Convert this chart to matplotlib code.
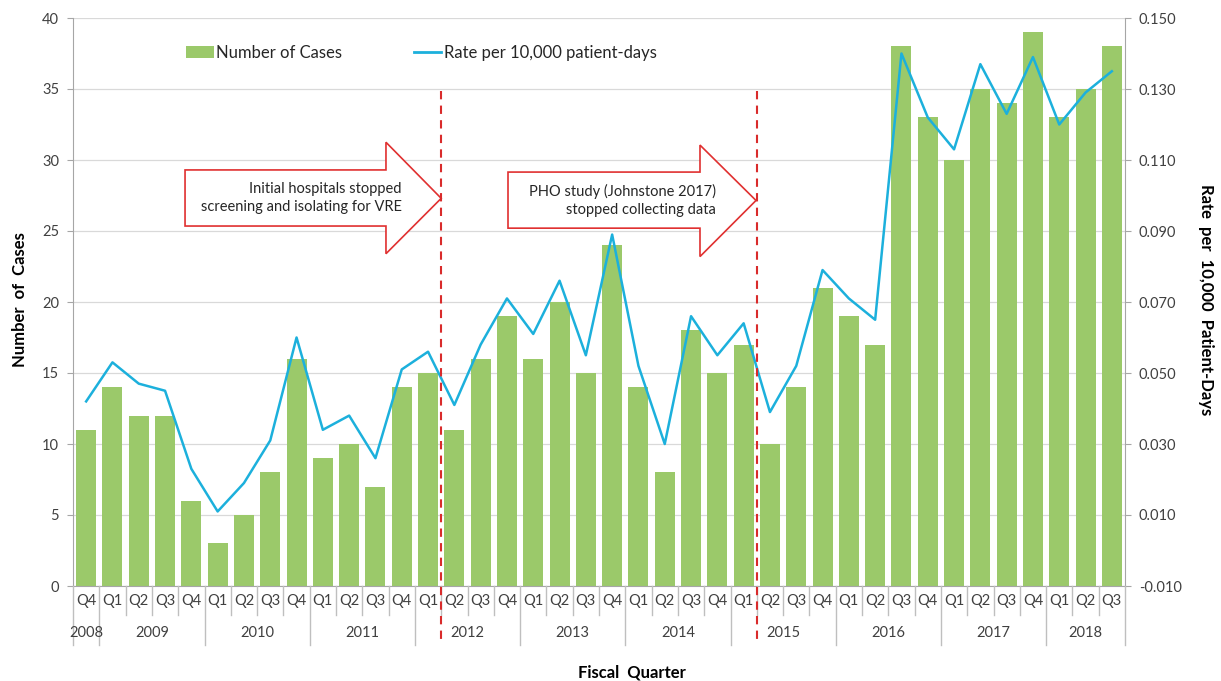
import numpy as np
import matplotlib.pyplot as plt
from matplotlib.patches import Polygon, Patch
from matplotlib.lines import Line2D
from matplotlib.ticker import FormatStrFormatter
import matplotlib.transforms as mtransforms

plt.rcParams['font.family'] = ['Lato', 'DejaVu Sans']

# fiscal quarters Q4 2008 .. Q3 2018
quarters = ['Q4'] + ['Q1', 'Q2', 'Q3', 'Q4'] * 9 + ['Q1', 'Q2', 'Q3']
years = ['2008'] + [str(y) for y in range(2009, 2018) for _ in range(4)] + ['2018'] * 3

cases = [11,
         14, 12, 12, 6,
         3, 5, 8, 16,
         9, 10, 7, 14,
         15, 11, 16, 19,
         16, 20, 15, 24,
         14, 8, 18, 15,
         17, 10, 14, 21,
         19, 17, 38, 33,
         30, 35, 34, 39,
         33, 35, 38]

rates = [0.042,
         0.053, 0.047, 0.045, 0.023,
         0.011, 0.019, 0.031, 0.060,
         0.034, 0.038, 0.026, 0.051,
         0.056, 0.041, 0.058, 0.071,
         0.061, 0.076, 0.055, 0.089,
         0.052, 0.030, 0.066, 0.055,
         0.064, 0.039, 0.052, 0.079,
         0.071, 0.065, 0.140, 0.122,
         0.113, 0.137, 0.123, 0.139,
         0.120, 0.129, 0.135]

# events (dashed lines between quarters)
events = [13.5, 25.5]
event_text = ['Initial hospitals stopped\nscreening and isolating for VRE',
              'PHO study (Johnstone 2017)\nstopped collecting data']

W, H = 1221, 681
GREEN = '#9BC96A'
BLUE = '#1CB0DC'
RED = '#D92B2B'
GRAY = '#A6A6A6'
TXT = '#404040'

fig = plt.figure(figsize=(W / 100, H / 100), dpi=100)
ax = fig.add_axes([73 / W, 95 / H, 1052 / W, 568 / H])
x = np.arange(len(cases))

ax.bar(x, cases, width=0.76, color=GREEN, zorder=2)
ax.set_xlim(-0.5, len(cases) - 0.5)
ax.set_ylim(0, 40)
ax.set_yticks(np.arange(0, 41, 5))
ax.yaxis.grid(True, color='#D9D9D9', linewidth=0.9, zorder=0)
ax.set_axisbelow(True)
ax.set_xticks([])
ax.tick_params(axis='y', direction='out', length=4, color=GRAY,
               labelsize=10.5, labelcolor=TXT, pad=6)
for s in ['top', 'right']:
    ax.spines[s].set_visible(False)
for s in ['left', 'bottom']:
    ax.spines[s].set_color(GRAY)

ax2 = ax.twinx()
ax2.plot(x, rates, color=BLUE, linewidth=1.8, zorder=3)
ax2.set_ylim(-0.010, 0.150)
ax2.set_yticks(np.arange(-0.010, 0.1501, 0.020))
ax2.yaxis.set_major_formatter(FormatStrFormatter('%.3f'))
ax2.tick_params(axis='y', direction='out', length=4, color=GRAY,
                labelsize=10.5, labelcolor=TXT, pad=6)
for s in ['top', 'left', 'bottom']:
    ax2.spines[s].set_visible(False)
ax2.spines['right'].set_color(GRAY)

# category axis: quarter row and year row
tr = mtransforms.blended_transform_factory(ax.transData, fig.transFigure)
y_axis = 95 / H
y_qline = (H - 615) / H
y_yline = (H - 645) / H
for i, q in enumerate(quarters):
    fig.text(i, (H - 601) / H, q, transform=tr, ha='center', va='center',
             fontsize=10.5, color=TXT)
for b in np.arange(-0.5, len(cases)):
    i_next = int(b + 0.5)
    year_edge = (i_next == 0 or i_next == len(cases)
                 or years[i_next] != years[i_next - 1])
    fig.add_artist(Line2D([b, b], [y_axis, y_yline if year_edge else y_qline],
                          transform=tr, color='#BFBFBF', linewidth=1))
for yr in dict.fromkeys(years):
    idx = [i for i, v in enumerate(years) if v == yr]
    fig.text(np.mean(idx), (H - 633) / H, yr, transform=tr, ha='center',
             va='center', fontsize=10.5, color=TXT)

# event lines
for e in events:
    fig.add_artist(Line2D([e, e], [(H - 91) / H, y_yline], transform=tr,
                          color=RED, linewidth=1.5, linestyle=(0, (4, 3))))

# arrows (x in quarter index, y in cases units)
arrows = [(3.76, 11.4, 13.5, 25.35, 29.3, 23.4, 31.25, 27.3),
          (16.04, 23.34, 25.47, 25.2, 29.15, 23.2, 31.05, 27.15)]
for (x0, xb, xt, yb0, yb1, yh0, yh1, ytip), txt in zip(arrows, event_text):
    pts = [(x0, yb0), (xb, yb0), (xb, yh0), (xt, ytip), (xb, yh1),
           (xb, yb1), (x0, yb1)]
    ax2.add_patch(Polygon(pts, closed=True, facecolor='white', edgecolor='#E03030',
                          linewidth=1.2, transform=ax.transData, zorder=5))
    ax2.text(xb + 0.6, ytip, txt, transform=ax.transData, ha='right', va='center',
             fontsize=10.5, color='#262626', linespacing=1.35, zorder=6)

# legend
handles = [Patch(facecolor=GREEN, edgecolor='none', label='Number of Cases'),
           Line2D([], [], color=BLUE, linewidth=2, label='Rate per 10,000 patient-days')]
fig.legend(handles=handles, loc='center left', bbox_to_anchor=(171 / W, (H - 53) / H),
           ncol=2, frameon=False, fontsize=12, handlelength=1.65, handletextpad=0.15,
           columnspacing=4.3, labelcolor='#262626')

fig.text(20 / W, (H - 300) / H, 'Number  of  Cases', rotation=90, ha='center',
         va='center', fontsize=12, fontweight='bold', color='black')
fig.text(1206 / W, (H - 300) / H, 'Rate  per  10,000  Patient-Days', rotation=-90,
         ha='center', va='center', fontsize=12, fontweight='bold', color='black')
fig.text(632 / W, (H - 672) / H, 'Fiscal  Quarter', ha='center', va='center',
         fontsize=12, fontweight='bold', color='black')

fig.savefig('out.png', dpi=100)
